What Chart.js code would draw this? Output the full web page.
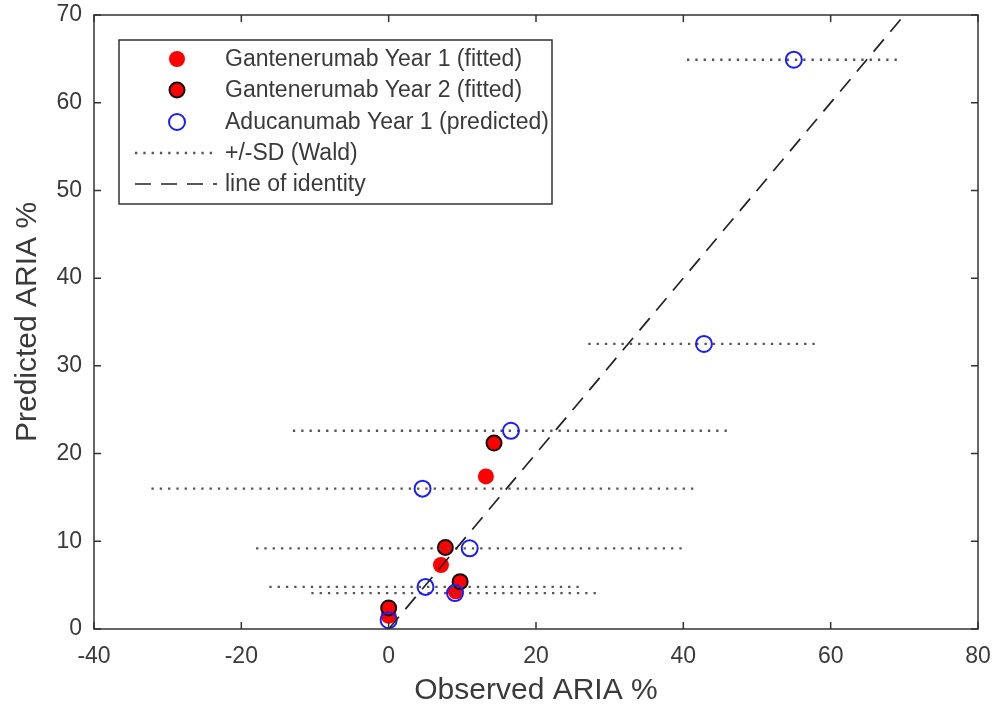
<!DOCTYPE html>
<html>
<head>
<meta charset="utf-8">
<script src="https://cdn.jsdelivr.net/npm/chart.js@4/dist/chart.umd.min.js"></script>
<style>
  html, body { margin: 0; padding: 0; background: #fff; }
  #wrap { width: 998px; height: 711px; position: relative; }
</style>
</head>
<body>
<div id="wrap"><canvas id="myChart"></canvas></div>
<script>
// Gantenerumab, fitted
let year1X = [0, 7.1, 9.1, 13.2];
let year1Y = [1.5, 7.3, 4.3, 17.4];
let year2X = [0, 7.7, 9.7, 14.3];
let year2Y = [2.4, 9.3, 5.4, 21.2];

// Aducanumab, predicted, with +/-SD (Wald) on observed
let aduX = [0, 9.0, 5.0, 11.0, 4.6, 16.6, 42.8, 55.0];
let aduY = [1.0, 4.1, 4.8, 9.2, 16.0, 22.6, 32.5, 64.9];
let aduSD = [0, 19.5, 21.2, 29.0, 36.8, 29.6, 15.7, 14.5];

let identityX = [0, 70];
let identityY = [0, 70];

let xTicks = [-40, -20, 0, 20, 40, 60, 80];
let yTicks = [0, 10, 20, 30, 40, 50, 60, 70];

const FONT = "'Liberation Sans', Arial, sans-serif";
const TEXT = '#3a3a3a';

function pts(xs, ys) {
    return xs.map((x, i) => ({x: x, y: ys[i]}));
}

let datasets = [
    {
        label: 'Gantenerumab Year 1 (fitted)',
        data: pts(year1X, year1Y),
        backgroundColor: '#ff0000',
        borderColor: '#ff0000',
        borderWidth: 0,
        pointRadius: 8,
        showLine: false,
        order: 4
    },
    {
        label: 'Gantenerumab Year 2 (fitted)',
        data: pts(year2X, year2Y),
        backgroundColor: '#ff0000',
        borderColor: '#111111',
        borderWidth: 2,
        pointRadius: 7.5,
        showLine: false,
        order: 3
    },
    {
        label: 'Aducanumab Year 1 (predicted)',
        data: pts(aduX, aduY),
        backgroundColor: 'rgba(0,0,0,0)',
        borderColor: '#1c1cff',
        borderWidth: 2,
        pointRadius: 8,
        showLine: false,
        order: 1
    }
];

// one small line per error bar
aduX.forEach((x, i) => {
    if (aduSD[i] <= 0) return;
    datasets.push({
        label: '+/-SD (Wald)',
        type: 'line',
        data: [{x: x - aduSD[i], y: aduY[i]}, {x: x + aduSD[i], y: aduY[i]}],
        borderColor: '#555555',
        borderWidth: 2.3,
        borderDash: [2.3, 6],
        borderCapStyle: 'butt',
        pointRadius: 0,
        fill: false,
        order: 2
    });
});

datasets.push({
    label: 'line of identity',
    type: 'line',
    data: pts(identityX, identityY),
    borderColor: '#222222',
    borderWidth: 1.7,
    borderDash: [16, 10],
    pointRadius: 0,
    fill: false,
    order: 0
});

// MATLAB style box with inward ticks
const boxPlugin = {
    id: 'boxFrame',
    afterDatasetsDraw(chart) {
        const ctx = chart.ctx;
        const a = chart.chartArea;
        const xs = chart.scales.x, ys = chart.scales.y;
        ctx.save();
        ctx.strokeStyle = '#333333';
        ctx.lineWidth = 1.5;
        ctx.strokeRect(a.left, a.top, a.right - a.left, a.bottom - a.top);
        ctx.beginPath();
        xTicks.forEach(v => {
            const px = xs.getPixelForValue(v);
            ctx.moveTo(px, a.bottom); ctx.lineTo(px, a.bottom - 7);
            ctx.moveTo(px, a.top); ctx.lineTo(px, a.top + 7);
        });
        yTicks.forEach(v => {
            const py = ys.getPixelForValue(v);
            ctx.moveTo(a.left, py); ctx.lineTo(a.left + 7, py);
            ctx.moveTo(a.right, py); ctx.lineTo(a.right - 7, py);
        });
        ctx.stroke();
        ctx.restore();
    }
};

// legend box drawn inside the axes
const legendPlugin = {
    id: 'boxLegend',
    afterDraw(chart) {
        const ctx = chart.ctx;
        const ds = chart.data.datasets;
        const bx = 119, by = 40, bw = 433, bh = 164;
        const mx = 177, tx = 225;
        const rows = [59, 90, 122, 153, 184];
        ctx.save();
        ctx.fillStyle = '#ffffff';
        ctx.fillRect(bx, by, bw, bh);
        ctx.strokeStyle = '#333333';
        ctx.lineWidth = 1.5;
        ctx.strokeRect(bx, by, bw, bh);

        // markers
        [0, 1, 2].forEach((k, i) => {
            const d = ds[k];
            ctx.beginPath();
            ctx.arc(mx, rows[i], d.pointRadius, 0, Math.PI * 2);
            if (d.backgroundColor !== 'rgba(0,0,0,0)') {
                ctx.fillStyle = d.backgroundColor;
                ctx.fill();
            }
            if (d.borderWidth > 0) {
                ctx.lineWidth = d.borderWidth;
                ctx.strokeStyle = d.borderColor;
                ctx.stroke();
            }
        });
        const err = ds.find(d => d.label === '+/-SD (Wald)');
        const idl = ds.find(d => d.label === 'line of identity');
        [[err, rows[3], 212], [idl, rows[4], 217]].forEach(([d, y, x2]) => {
            ctx.beginPath();
            ctx.setLineDash(d.borderDash);
            ctx.lineWidth = d.borderWidth;
            ctx.strokeStyle = d.borderColor;
            ctx.moveTo(135, y);
            ctx.lineTo(x2, y);
            ctx.stroke();
        });
        ctx.setLineDash([]);

        ctx.fillStyle = TEXT;
        ctx.font = '23px ' + FONT;
        ctx.textBaseline = 'middle';
        ctx.textAlign = 'left';
        [ds[0].label, ds[1].label, ds[2].label, err.label, idl.label].forEach((t, i) => {
            ctx.fillText(t, tx, rows[i] + 1);
        });
        ctx.restore();
    }
};

let chartElement = document.getElementById('myChart').getContext('2d');

let myChart = new Chart(chartElement, {
    type: 'scatter',
    data: { datasets: datasets },
    options: {
        responsive: true,
        maintainAspectRatio: false,
        animation: false,
        layout: { padding: { top: 15, right: 20, left: 0, bottom: 0 } },
        plugins: {
            legend: { display: false },
            tooltip: { enabled: false }
        },
        scales: {
            x: {
                type: 'linear',
                min: -40,
                max: 80,
                afterBuildTicks: s => { s.ticks = xTicks.map(v => ({value: v})); },
                afterFit: s => { s.height = 82; s.paddingLeft = 0; s.paddingRight = 0; },
                grid: { display: false, drawTicks: false },
                border: { display: false },
                ticks: { color: TEXT, padding: 14, font: { family: FONT, size: 23 } },
                title: {
                    display: true,
                    text: 'Observed ARIA %',
                    color: TEXT,
                    padding: { top: 0, bottom: 2 },
                    font: { family: FONT, size: 30 }
                }
            },
            y: {
                type: 'linear',
                min: 0,
                max: 70,
                afterBuildTicks: s => { s.ticks = yTicks.map(v => ({value: v})); },
                afterFit: s => { s.width = 94; s.paddingTop = 0; s.paddingBottom = 0; },
                grid: { display: false, drawTicks: false },
                border: { display: false },
                ticks: { color: TEXT, padding: 12, font: { family: FONT, size: 23 } },
                title: {
                    display: true,
                    text: 'Predicted ARIA %',
                    color: TEXT,
                    padding: { top: 10, bottom: 0 },
                    font: { family: FONT, size: 30 }
                }
            }
        }
    },
    plugins: [boxPlugin, legendPlugin]
});
</script>
</body>
</html>
